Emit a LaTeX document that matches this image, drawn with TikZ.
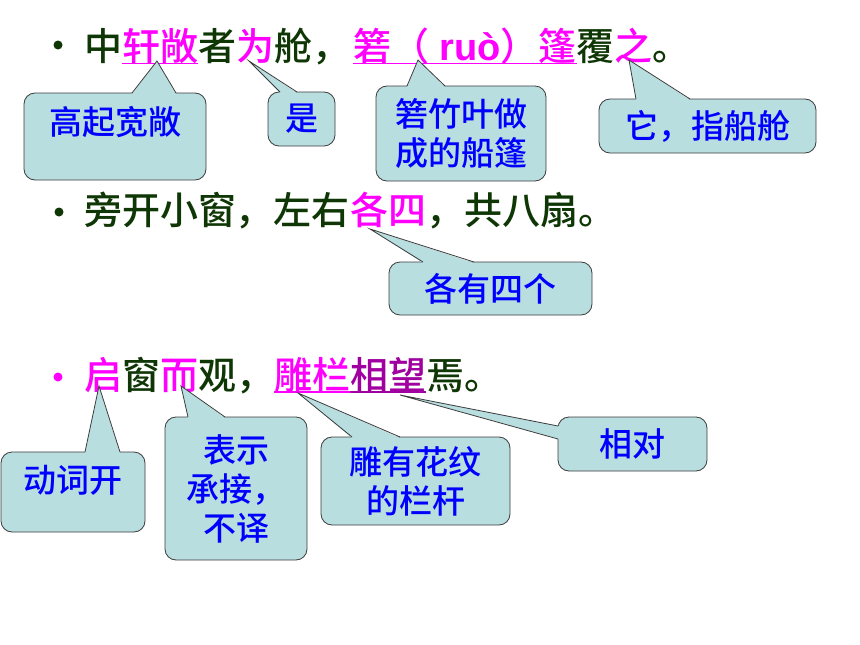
\documentclass[tikz,border=0pt]{standalone}
\usepackage{fontspec}
\setmainfont{Noto Sans CJK SC}[UprightFont=* Medium]
\newfontfamily\arialfont{Liberation Sans}
\definecolor{dgreen}{RGB}{15,55,5}
\definecolor{mag}{RGB}{255,0,255}
\definecolor{purp}{RGB}{160,0,160}
\definecolor{cfill}{RGB}{185,222,224}
\definecolor{cline}{RGB}{60,60,60}
\definecolor{cblue}{RGB}{0,0,255}
\begin{document}
\begin{tikzpicture}[x=1pt,y=-1pt,
  tx/.style={inner sep=0pt,outer sep=0pt,anchor=base west,font=\fontsize{38}{44}\selectfont},
  gtx/.style={tx,text=dgreen},
  mtx/.style={tx,text=mag},
  ptx/.style={tx,text=purp},
  bul/.style={circle,inner sep=0pt,minimum size=9pt},
  box/.style={draw=cline,line width=0.8pt,fill=cfill,rounded corners=11pt,text=cblue,
              font=\fontsize{33}{39}\selectfont,inner sep=2pt},
  boxml/.style={box,align=center},
  wfill/.style={fill=cfill},
  wline/.style={draw=cline,line width=0.8pt,line join=miter},
  ul/.style={line width=1.8pt}]
\useasboundingbox (0,0) rectangle (860,645);
\fill[white] (0,0) rectangle (860,645);

% bullets
\node[bul,fill=dgreen] (bu1) at (58,45) {};
\node[bul,fill=dgreen] (bu2) at (59,212) {};
\node[bul,fill=mag] (bu3) at (58,377) {};

% line 1
\node[gtx] (a1) at (84,60.5) {中};
\node[mtx] (a2) at (a1.base east) {轩敞};
\node[gtx] (a3) at (a2.base east) {者};
\node[mtx] (a4) at (a3.base east) {为};
\node[gtx] (a5) at (a4.base east) {舱，};
\node[mtx] (a6) at (353,60.5) {箬（{\arialfont\bfseries\ ruò}）篷};
\node[gtx] (a7) at (a6.base east) {覆};
\node[mtx] (a8) at (a7.base east) {之};
\node[gtx] (a9) at (a8.base east) {。};
\draw[ul,mag] ([yshift=-3pt]a2.base west) -- ([yshift=-3pt]a2.base east);
\draw[ul,mag] ([yshift=-3pt]a6.base west) -- ([yshift=-3pt]a6.base east);

% line 2
\node[gtx] (c1) at (84,224.5) {旁开小窗，左右};
\node[mtx] (c2) at (c1.base east) {各四};
\node[gtx] (c3) at (c2.base east) {，共八扇。};

% line 3
\node[mtx] (d1) at (84,389) {启};
\node[gtx] (d2) at (d1.base east) {窗};
\node[mtx] (d3) at (d2.base east) {而};
\node[gtx] (d4) at (d3.base east) {观，};
\node[mtx] (d5) at (d4.base east) {雕栏};
\node[ptx] (d6) at (d5.base east) {相望};
\node[gtx] (d7) at (d6.base east) {焉。};
\draw[ul,mag] ([yshift=-3pt]d5.base west) -- ([yshift=-3pt]d5.base east);
\draw[ul,purp] ([yshift=-3pt]d6.base west) -- ([yshift=-3pt]d6.base east);

% pointer tips
\coordinate (t1) at (157,61);
\coordinate (t2) at (249,61);
\coordinate (t3) at (418,60);
\coordinate (t4) at (629,60);
\coordinate (t5) at (370,229);
\coordinate (t6) at (99,386);
\coordinate (t7) at (181,386);
\coordinate (t8) at (298,393);
\coordinate (t9) at (400,395);

% callout boxes
\node[box,minimum width=182pt,minimum height=87pt,text height=29pt,text depth=33pt] (b1) at (115,136.5) {高起宽敞};
\node[box,minimum width=67pt,minimum height=54pt] (b2) at (301.5,119) {是};
\node[boxml,minimum width=170pt,minimum height=95pt] (b3) at (461,133.5) {箬竹叶做\\成的船篷};
\node[box,minimum width=217pt,minimum height=54pt] (b4) at (707.5,126) {它，指船舱};
\node[box,minimum width=203pt,minimum height=53pt] (b5) at (490.5,288.5) {各有四个};
\node[box,minimum width=144pt,minimum height=80pt,text height=29pt,text depth=28pt] (b6) at (73,492) {动词开};
\node[boxml,minimum width=142pt,minimum height=143pt] (b7) at (236,488.5) {表示\\承接，\\不译};
\node[boxml,minimum width=189pt,minimum height=88pt] (b8) at (415.5,481) {雕有花纹\\的栏杆};
\node[box,minimum width=149pt,minimum height=54pt] (b9) at (632.5,444) {相对};

% pointers
\fill[wfill] (132,94) -- (t1) -- (176,94) -- cycle;
\draw[wline] (132,93) -- (t1) -- (176,93);
\fill[wfill] (280,93) -- (t2) -- (297,93) -- cycle;
\draw[wline] (280,92) -- (t2) -- (297,92);
\fill[wfill] (407,87) -- (t3) -- (445,87) -- cycle;
\draw[wline] (407,86) -- (t3) -- (445,86);
\fill[wfill] (636,100) -- (t4) -- (690,100) -- cycle;
\draw[wline] (636,99) -- (t4) -- (690,99);
\fill[wfill] (423,263) -- (t5) -- (474,263) -- cycle;
\draw[wline] (423,262) -- (t5) -- (474,262);
\fill[wfill] (85,453) -- (t6) -- (120,453) -- cycle;
\draw[wline] (85,452) -- (t6) -- (120,452);
\fill[wfill] (188,418) -- (t7) -- (225,418) -- cycle;
\draw[wline] (188,417) -- (t7) -- (225,417);
\fill[wfill] (352,438) -- (t8) -- (400,438) -- cycle;
\draw[wline] (352,437) -- (t8) -- (400,437);
\fill[wfill] (559,426) -- (t9) -- (559,439) -- cycle;
\draw[wline] (558,426) -- (t9) -- (558,439);
\end{tikzpicture}
\end{document}
